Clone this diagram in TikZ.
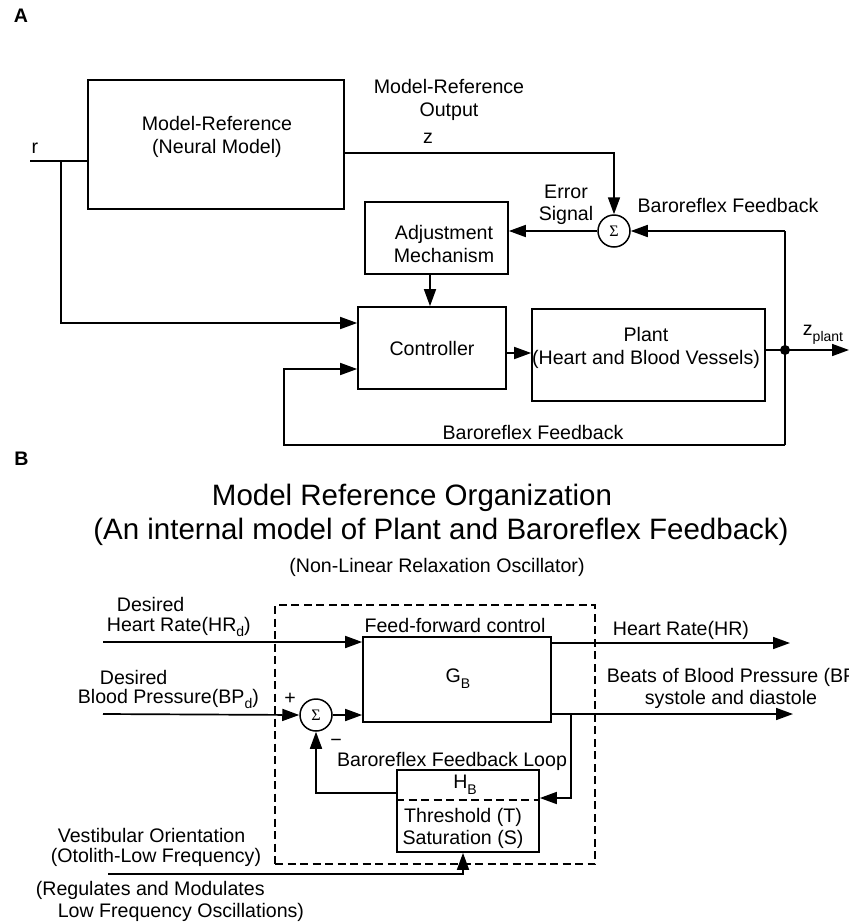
\documentclass[tikz,border=0pt]{standalone}
\usepackage{fontspec}
\setmainfont{Liberation Sans}
\newfontfamily\sigfont{Liberation Serif}
\usetikzlibrary{arrows.meta,calc}
\newcommand\fsn{\fontsize{19.6}{22.5}\selectfont}
\newcommand\fst{\fontsize{29.5}{34}\selectfont}
\newcommand\sbs[1]{\raisebox{-0.3em}{\fontsize{14}{14}\selectfont #1}}
\begin{document}
\begin{tikzpicture}[x=1pt,y=-1pt,line width=1.7pt,
  blk/.style={draw,line width=1.7pt,inner sep=0pt},
  txt/.style={font=\fsn,align=center,inner sep=0pt},
  arr/.style={-{Triangle[length=17pt,width=12pt]}},
  sumc/.style={circle,draw,line width=1.5pt,minimum size=32pt,inner sep=0pt,font=\sigfont\fontsize{16}{16}\selectfont},
  dsh/.style={dash pattern=on 8pt off 4.5pt}]
\useasboundingbox (0,0) rectangle (849,924);
% ---------------- Part A ----------------
\node[txt,font=\bfseries\fontsize{19.6}{19.6}\selectfont] (labA) at (21,16) {A};
\node[blk,minimum width=256pt,minimum height=129pt] (mr) at (216,144.5) {};
\node[txt] (mrt) at (217,137) {Model-Reference\\(Neural Model)};
\node[txt] (mro) at (449,100) {Model-Reference\\Output};
\node[txt] (zl) at (428,138) {z};
\node[txt] (rl) at (35,148) {r};
\node[sumc] (s1) at (614,231) {Σ};
\node[blk,minimum width=143pt,minimum height=72pt] (adj) at (436.5,238) {};
\node[txt] (adjt) at (444,244) {Adjustment\\Mechanism};
\node[txt] (err) at (566,205) {Error\\Signal};
\node[txt] (bf1) at (728,205) {Baroreflex Feedback};
\node[blk,minimum width=148pt,minimum height=82pt,font=\fsn] (ctrl) at (432,348) {Controller};
\node[blk,minimum width=233pt,minimum height=92pt] (plant) at (648.5,355) {};
\node[txt] (plt) at (646,348) {Plant\\(Heart and Blood Vessels)};
\node[txt] (bf2) at (533,432) {Baroreflex Feedback};
\node[circle,fill,inner sep=0pt,minimum size=10pt] (dot) at (785,350) {};
\node[txt] (zp) at (823,335) {z\sbs{plant}};
\coordinate (r0) at (30,161);
\coordinate (rb) at (61,161);
\coordinate (fbT) at (785,231);
\coordinate (fbB) at (785,445);
\coordinate (fbL) at (284,369);
\coordinate (zout) at (849,350);
\coordinate (cp) at ([yshift=-5pt]ctrl.east);
\draw (r0) -- (r0 -| mr.west);
\draw[arr] (rb) |- ([yshift=25pt]ctrl.west);
\draw[arr] ([yshift=-8.5pt]mr.east) -| (s1.north);
\draw[arr] (s1.west) -- (s1.west -| adj.east);
\draw[arr] (fbT) -- (s1.east);
\draw (fbT) -- (fbB);
\draw[arr] (fbB) -| (fbL) -- (fbL -| ctrl.west);
\draw[arr] ([xshift=-6.5pt]adj.south) -- ([xshift=-2pt]ctrl.north);
\draw[arr] (cp) -- (cp -| plant.west);
\draw[arr] (plant.east |- zout) -- (zout);
% ---------------- Part B ----------------
\node[txt,font=\bfseries\fontsize{19.6}{19.6}\selectfont] (labB) at (21.5,459) {B};
\node[txt,font=\fst] (t1) at (412,498) {Model Reference Organization};
\node[txt,font=\fst] (t2) at (441,532) {(An internal model of Plant and Baroreflex Feedback)};
\node[txt] (t3) at (437,567) {(Non-Linear Relaxation Oscillator)};
\node[draw,dsh,minimum width=320pt,minimum height=259pt,inner sep=0pt] (dbox) at (435,734.5) {};
\node[blk,minimum width=188pt,minimum height=85pt] (gb) at (457,679.5) {};
\node[txt] (gbt) at (458,679) {G\sbs{B}};
\node[txt] (ffc) at (455,625) {Feed-forward control};
\node[sumc] (s2) at (316,715) {Σ};
\node[blk,minimum width=142pt,minimum height=82pt] (hb) at (468,811) {};
\coordinate (dv) at (0,800);
\draw[dsh] (hb.west |- dv) -- (hb.east |- dv);
\node[txt] (hbt) at (465,785) {H\sbs{B}};
\node[txt] (thr) at (463,828.5) {Threshold (T)\\Saturation (S)};
\node[txt] (bfl) at (452,761) {Baroreflex Feedback Loop};
\node[txt] (plus) at (290,699) {+};
\node[txt] (minus) at (336,743) {−};
\node[txt,anchor=west] (d1) at (116,604) {Desired};
\node[txt,anchor=west] (hrd) at (106,627) {Heart Rate(HR\sbs{d})};
\node[txt,anchor=west] (d2) at (99,677) {Desired};
\node[txt,anchor=west] (bpdl) at (77,699) {Blood Pressure(BP\sbs{d})};
\node[txt,anchor=west] (hro) at (612,630) {Heart Rate(HR)};
\node[txt,anchor=west] (bbp) at (606,677) {Beats of Blood Pressure (BP)};
\node[txt] (sys) at (731,699) {systole and diastole};
\node[txt,anchor=west] (v1) at (57,835) {Vestibular Orientation};
\node[txt,anchor=west] (v2) at (50,857) {(Otolith-Low Frequency)};
\node[txt,anchor=west] (reg1) at (35,890) {(Regulates and Modulates};
\node[txt,anchor=west] (reg2) at (57,912) {Low Frequency Oscillations)};
\coordinate (hrin) at (103,642);
\coordinate (hrout) at (790,643);
\coordinate (bpout) at (793,714);
\coordinate (bpb) at (571,714);
\coordinate (bpdn) at (571,798);
\coordinate (bpin) at (103,714);
\coordinate (hbl) at (397,793);
\coordinate (vin) at (108,874);
\coordinate (vup) at (463,874);
\draw[arr] (hrin) -- (hrin -| gb.west);
\draw[arr] (hrout -| gb.east) -- (hrout);
\draw[arr] (bpout -| gb.east) -- (bpout);
\draw[arr] (bpb) -- (bpdn) -- (bpdn -| hb.east);
\draw[arr] (bpin) -- (s2.west);
\draw[arr] (s2.east) -- (s2.east -| gb.west);
\draw[arr] (hbl) -| (s2.south);
\draw[arr] (vin) -- (vup) -- (vup |- hb.south);
\end{tikzpicture}
\end{document}
